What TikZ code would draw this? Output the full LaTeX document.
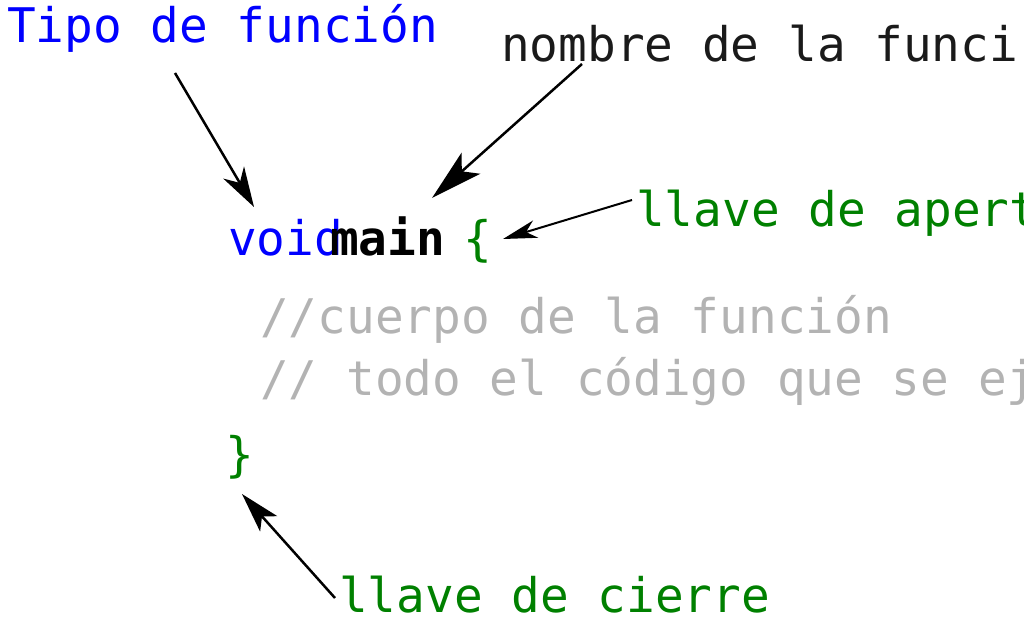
\documentclass[tikz,border=0pt]{standalone}
\usepackage{fontspec}
\setmonofont{DejaVu Sans Mono}
\usepackage{tikz}
\usetikzlibrary{arrows.meta,positioning}
\definecolor{typeblue}{RGB}{0,0,255}
\definecolor{bracegreen}{RGB}{0,128,0}
\definecolor{commentgray}{RGB}{179,179,179}
\definecolor{namegray}{RGB}{26,26,26}

\begin{document}
\begin{tikzpicture}[x=1pt,y=-1pt,>=Stealth, every node/.style={font=\ttfamily\fontsize{47.7}{57}\selectfont,inner sep=0pt,anchor=base west}]
    \tikzset{kind/.style={text=typeblue}}
    \tikzset{brace/.style={text=bracegreen}}
    \tikzset{remark/.style={text=commentgray}}
    \tikzset{pointer/.style={draw,line width=2.5pt}}
    \clip (0,0) rectangle (1024,620);

    % Labels
    \node[kind] (tipo) at (7,43) {Tipo de función};
    \node[text=namegray] (nombre) at (501,62) {nombre de la funci};
    \node[brace] (apertura) at (636,226) {llave de apert};
    \node[brace,text depth=0pt] (cierre) at (339,612) {llave de cierre};

    % Code
    \node[kind] (void) at (228,255) {void};
    \node[font=\ttfamily\bfseries\fontsize{47.7}{57}\selectfont] (main) at (330,255) {main};
    \node[brace] (open) at (463,255) {\{};
    \node[remark] (cuerpo) at (260,333) {//cuerpo de la función};
    \node[remark] (todo) at (260,395) {// todo el código que se ej};
    \node[brace] (close) at (225,471) {\}};

    % Arrows
    \coordinate (tipo-tail) at (175,73);
    \coordinate (tipo-tip) at (254,207);
    \coordinate (nombre-tail) at (582,64);
    \coordinate (nombre-tip) at (432,198);
    \coordinate (apertura-tail) at (632,200);
    \coordinate (apertura-tip) at (503,239);
    \coordinate (cierre-tail) at (335,598);
    \coordinate (cierre-tip) at (242,494);
    \draw[pointer,-{Stealth[length=40pt,width=24pt,inset=12pt]}] (tipo-tail) -- (tipo-tip);
    \draw[pointer,-{Stealth[length=52pt,width=28pt,inset=12pt]}] (nombre-tail) -- (nombre-tip);
    \draw[pointer,line width=2pt,-{Stealth[length=34pt,width=18pt,inset=10pt]}] (apertura-tail) -- (apertura-tip);
    \draw[pointer,-{Stealth[length=40pt,width=23pt,inset=10pt]}] (cierre-tail) -- (cierre-tip);
\end{tikzpicture}
\end{document}
